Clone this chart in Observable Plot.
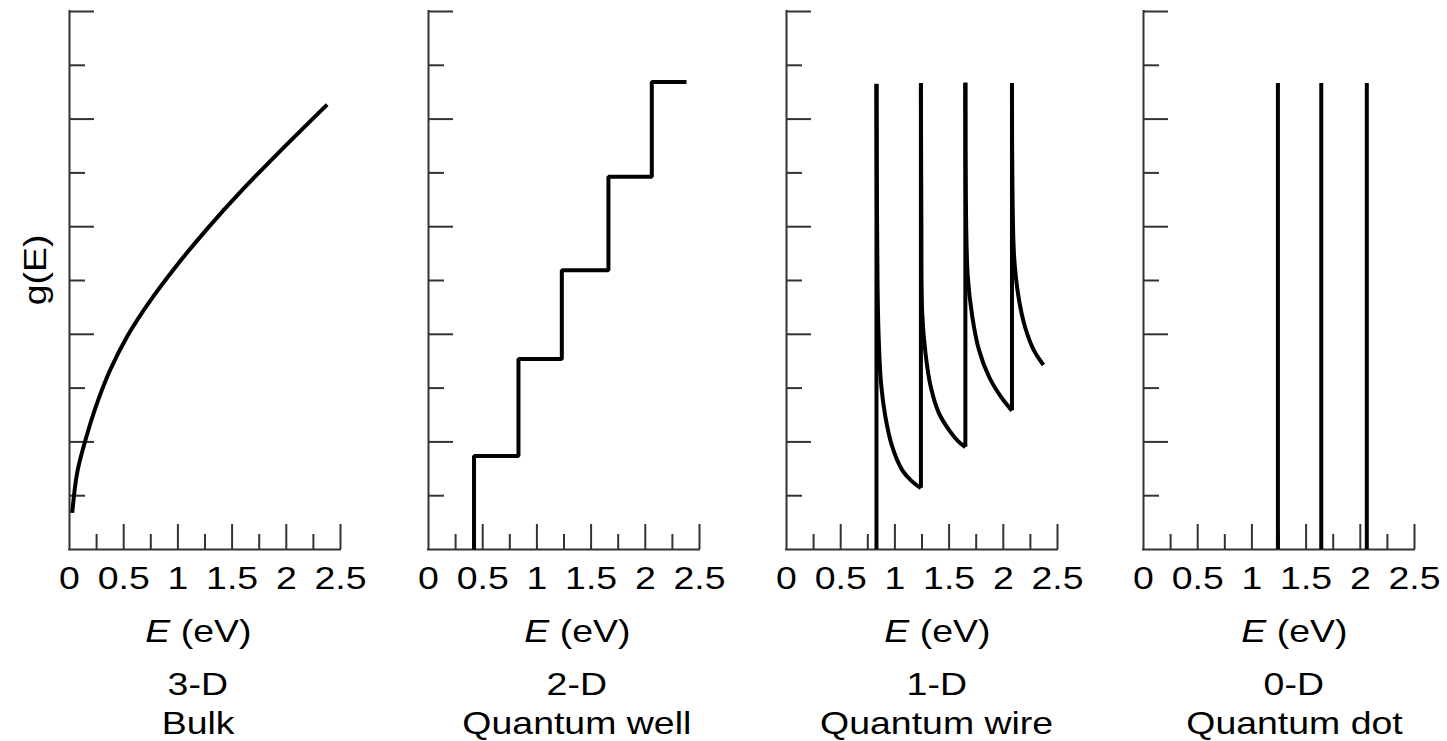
<!DOCTYPE html>
<html><head><meta charset="utf-8">
<script src="https://cdn.jsdelivr.net/npm/d3@7"></script>
<script src="https://cdn.jsdelivr.net/npm/@observablehq/plot@0.6"></script>
<style>
html,body{margin:0;padding:0;background:#fff;}
#root{position:relative;width:1447px;height:741px;overflow:hidden;font-family:"Liberation Sans",Arial,Helvetica,sans-serif;color:#000;background:#fff;}
.panel{position:absolute;top:0;}
.cap{position:absolute;width:400px;text-align:center;font-size:32px;line-height:28px;white-space:nowrap;}
.cap span{display:inline-block;transform:scaleX(1.17);}
.ylab{position:absolute;font-size:32px;line-height:32px;white-space:nowrap;transform:translate(-50%,-50%) rotate(-90deg) scaleX(1.17);}
</style></head><body><div id="root"></div>
<script>
// ---- tick values & labels ----
const xTickValues = [0, 0.5, 1, 1.5, 2, 2.5];
const xTickLabels = ["0", "0.5", "1", "1.5", "2", "2.5"];
const xMinorTicks = [0.25, 0.75, 1.25, 1.75, 2.25];
const yMajorTicks = [2, 4, 6, 8, 10];
const yMinorTicks = [1, 3, 5, 7, 9];
const panelDims = ["3-D", "2-D", "1-D", "0-D"];
const panelNames = ["Bulk", "Quantum well", "Quantum wire", "Quantum dot"];
const xLabelUnit = "(eV)";
const yLabel = "g(E)";

// ---- 3-D bulk ----
const bulkE = [0.025, 0.071, 0.148, 0.256, 0.378, 0.532, 0.747, 0.993, 1.27, 1.579, 1.916, 2.377];
const bulkG = [0.68, 1.43, 2.04, 2.73, 3.35, 3.96, 4.63, 5.29, 5.96, 6.65, 7.35, 8.27];

// ---- 2-D quantum well (steps) ----
const wellE = [0.42, 0.42, 0.83, 1.23, 1.66, 2.06, 2.38];
const wellG = [0, 1.74, 3.54, 5.19, 6.93, 8.69, 8.69];

// ---- 1-D quantum wire ----
const wireSpikeE = [0.83, 1.24, 1.65, 2.08];
const wireSpikeBase = [0, 1.14, 1.9, 2.58];
const wireSpikeTop = [8.65, 8.66, 8.67, 8.66];
const wireDecay1E = [0.83, 0.834, 0.84, 0.85, 0.872, 0.912, 0.974, 1.066, 1.15, 1.24];
const wireDecay1G = [8.65, 6.6, 4.9, 3.96, 3.09, 2.47, 1.92, 1.48, 1.28, 1.14];
const wireDecay2E = [1.24, 1.244, 1.252, 1.282, 1.33, 1.405, 1.51, 1.58, 1.65];
const wireDecay2G = [8.66, 6.2, 4.39, 3.65, 3.03, 2.54, 2.19, 2.02, 1.9];
const wireDecay3E = [1.65, 1.654, 1.672, 1.713, 1.774, 1.866, 1.974, 2.08];
const wireDecay3G = [8.67, 6.6, 5.08, 4.34, 3.72, 3.22, 2.85, 2.58];
const wireDecay4E = [2.08, 2.084, 2.10, 2.14, 2.20, 2.28, 2.37];
const wireDecay4G = [8.66, 6.8, 5.44, 4.70, 4.14, 3.71, 3.43];

// ---- 0-D quantum dot ----
const dotE = [1.24, 1.64, 2.06];
const dotG = [8.66, 8.66, 8.66];

// ---- layout ----
const W = 359, H = 600, ML = 69, MR = 19, MT = 11, MB = 51;
const pxPerY = (H - MT - MB) / 10;
const pxPerX = (W - ML - MR) / 2.5;
const panelLeft = [0, 359, 717, 1074];
const capCenter = [198, 577, 937, 1294];
const FONT = '"Liberation Sans", Arial, Helvetica, sans-serif';
const AX = "#333";

const zip = (xs, ys) => xs.map((x, i) => ({E: x, g: ys[i]}));
const bulk = zip(bulkE, bulkG);
const well = zip(wellE, wellG);
const wireDecays = [[wireDecay1E, wireDecay1G], [wireDecay2E, wireDecay2G], [wireDecay3E, wireDecay3G], [wireDecay4E, wireDecay4G]]
  .flatMap(([es, gs], k) => es.map((e, i) => ({E: e, g: gs[i], branch: k})));
const wireSpikes = wireSpikeE.map((e, i) => ({E: e, base: wireSpikeBase[i], top: wireSpikeTop[i]}));
const dots = dotE.map((e, i) => ({E: e, top: dotG[i]}));

const curveStyle = {stroke: "#000", strokeWidth: 4, strokeLinecap: "butt"};

function panel(dataMarks) {
  const svg = Plot.plot({
    width: W, height: H,
    marginLeft: ML, marginRight: MR, marginTop: MT, marginBottom: MB,
    x: {domain: [0, 2.5], axis: null},
    y: {domain: [0, 10], axis: null},
    style: {fontFamily: FONT, fontSize: "32px", background: "transparent", color: "#000", overflow: "visible"},
    marks: [
      Plot.ruleX([0], {x: d => d, y1: 0, y2: 10, stroke: AX, strokeWidth: 2, strokeLinecap: "square"}),
      Plot.ruleY([0], {y: d => d, x1: 0, x2: 2.5, stroke: AX, strokeWidth: 2, strokeLinecap: "square"}),
      Plot.ruleX(xTickValues.slice(1), {x: d => d, y1: 0, y2: 25 / pxPerY, stroke: AX, strokeWidth: 2}),
      Plot.ruleX(xMinorTicks, {x: d => d, y1: 0, y2: 15 / pxPerY, stroke: AX, strokeWidth: 2}),
      Plot.ruleY(yMajorTicks, {y: d => d, x1: 0, x2: 25 / pxPerX, stroke: AX, strokeWidth: 2}),
      Plot.ruleY(yMinorTicks, {y: d => d, x1: 0, x2: 16 / pxPerX, stroke: AX, strokeWidth: 2}),
      Plot.text(xTickValues, {x: d => d, y: 0, text: (d, i) => xTickLabels[i], dy: 29, fontSize: 32, lineAnchor: "middle", fill: "#000"}),
      ...dataMarks
    ]
  });
  // stretch tick labels horizontally to match the reference typeface
  svg.querySelectorAll("text").forEach(t => {
    const xa = t.getAttribute("x"), ya = t.getAttribute("y");
    let tx = 0, ty = 0;
    if (xa !== null && xa !== "" && !isNaN(+xa)) { tx = +xa; t.setAttribute("x", 0); }
    if (ya !== null && ya !== "" && !isNaN(+ya)) { ty = +ya; t.setAttribute("y", 0); }
    const tr = t.getAttribute("transform") || "";
    t.setAttribute("transform", `${tr} translate(${tx},${ty}) scale(1.17,1)`);
  });
  return svg;
}

const panels = [
  panel([Plot.line(bulk, {x: "E", y: "g", curve: "catmull-rom", ...curveStyle})]),
  panel([Plot.line(well, {x: "E", y: "g", curve: "step-after", ...curveStyle, strokeLinejoin: "miter"})]),
  panel([
    Plot.ruleX(wireSpikes, {x: "E", y1: "base", y2: "top", ...curveStyle}),
    Plot.line(wireDecays, {x: "E", y: "g", z: "branch", curve: "catmull-rom", ...curveStyle})
  ]),
  panel([Plot.ruleX(dots, {x: "E", y1: 0, y2: "top", ...curveStyle})])
];

const root = document.getElementById("root");
panels.forEach((svg, i) => {
  const d = document.createElement("div");
  d.className = "panel";
  d.style.left = panelLeft[i] + "px";
  d.appendChild(svg);
  root.appendChild(d);
  const mk = (html, top) => {
    const c = document.createElement("div");
    c.className = "cap";
    c.style.left = (capCenter[i] - 200) + "px";
    c.style.top = top + "px";
    c.innerHTML = `<span>${html}</span>`;
    root.appendChild(c);
  };
  mk(`<i>E</i> ${xLabelUnit}`, 617);
  mk(panelDims[i], 670);
  mk(panelNames[i], 709);
});
const yl = document.createElement("div");
yl.className = "ylab";
yl.style.left = "35px";
yl.style.top = "270px";
yl.textContent = yLabel;
root.appendChild(yl);
</script></body></html>
